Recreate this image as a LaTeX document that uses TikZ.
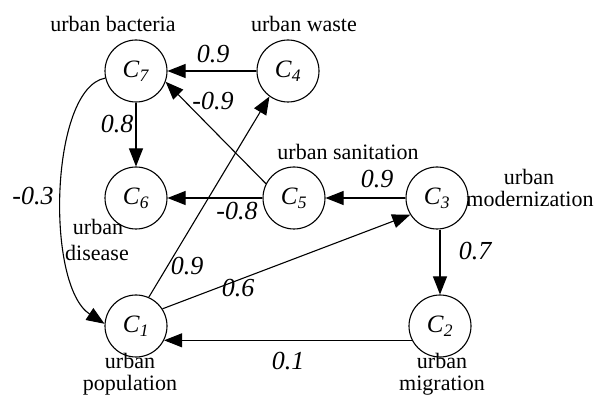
\documentclass[tikz,border=0pt]{standalone}
\usepackage{fontspec}
\setmainfont{Liberation Serif}
\usetikzlibrary{arrows.meta}
\begin{document}
\begin{tikzpicture}[x=1pt,y=-1pt,
  concept/.style={circle,draw,line width=1.1pt,minimum size=62pt,inner sep=0pt,
    font=\fontsize{25}{28}\selectfont},
  conceptname/.style={anchor=base,inner sep=0pt,font=\fontsize{22}{24}\selectfont},
  weight/.style={anchor=base,inner sep=0pt,font=\fontsize{26}{28}\selectfont\itshape},
  link/.style={line width=1.1pt,-{Triangle[length=18pt,width=14pt]}}]
\useasboundingbox (0,0) rectangle (595,398);
\node[concept] (C7) at (136,71) {\textit{C}\textsubscript{\textit{7}}};
\node[concept] (C4) at (288,71) {\textit{C}\textsubscript{\textit{4}}};
\node[concept] (C6) at (136,198) {\textit{C}\textsubscript{\textit{6}}};
\node[concept] (C5) at (294,198) {\textit{C}\textsubscript{\textit{5}}};
\node[concept] (C3) at (437,198) {\textit{C}\textsubscript{\textit{3}}};
\node[concept] (C2) at (440,326) {\textit{C}\textsubscript{\textit{2}}};
\node[concept] (C1) at (136,326) {\textit{C}\textsubscript{\textit{1}}};
% names
\node[conceptname] (n7) at (113,32) {urban bacteria};
\node[conceptname] (n4) at (304,32) {urban waste};
\node[conceptname] (n5) at (348,160) {urban sanitation};
\node[conceptname] (n3a) at (529,185) {urban};
\node[conceptname] (n3b) at (530,207) {modernization};
\node[conceptname] (n6a) at (98,235) {urban};
\node[conceptname] (n6b) at (97,261) {disease};
\node[conceptname] (n1a) at (130,368) {urban};
\node[conceptname] (n1b) at (130,390) {population};
\node[conceptname] (n2a) at (442,368) {urban};
\node[conceptname] (n2b) at (442,390) {migration};
% edges
\draw[link] (C4) -- (C7);
\draw[link] (C5.153) -- (C7.-20);
\draw[link] (C7) -- (C6);
\draw[link] (C5) -- (C6);
\draw[link] (C3) -- (C5);
\draw[link] (C1.66) -- (C4.234);
\draw[link] (C1.33) -- (C3.212);
\draw[link] (C3.south -| C2.north) -- (C2.north);
\draw[link] (C2.207) -- (C1.-27);
\draw[link] (C7.193) .. controls (50,88) and (45,285) .. (C1.176);
% weights
\node[weight] (w74) at (213,63) {0.9};
\node[weight] (w75) at (213,110) {-0.9};
\node[weight] (w76) at (117,133) {0.8};
\node[weight] (w71) at (33,205) {-0.3};
\node[weight] (w56) at (237,220) {-0.8};
\node[weight] (w35) at (377,188) {0.9};
\node[weight] (w32) at (475,260) {0.7};
\node[weight] (w14) at (187,275) {0.9};
\node[weight] (w13) at (238,297) {0.6};
\node[weight] (w21) at (288,370) {0.1};
\end{tikzpicture}
\end{document}
